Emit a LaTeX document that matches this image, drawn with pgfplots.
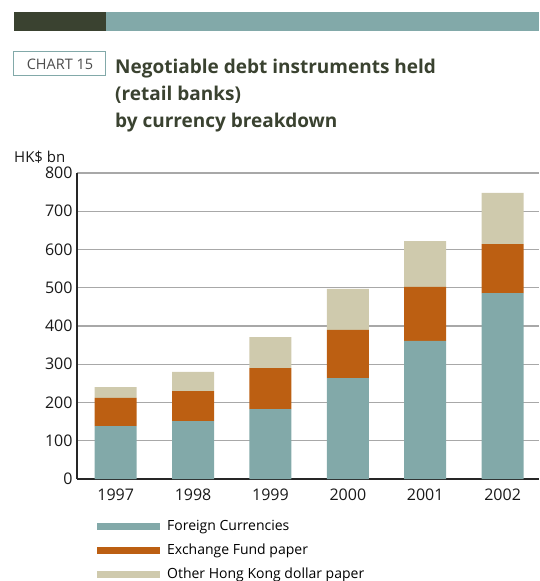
\documentclass[border=0pt]{standalone}
\usepackage{fontspec}
\setmainfont{Open Sans}
\usepackage{pgfplots}
\pgfplotsset{compat=1.18}
\definecolor{cteal}{HTML}{82A9A9}
\definecolor{corange}{HTML}{BC5F12}
\definecolor{cbeige}{HTML}{CFCAAD}
\definecolor{cdark}{HTML}{3A4230}
\definecolor{cgrid}{HTML}{A8A8A8}
\begin{document}
\begin{tikzpicture}[x=1pt,y=1pt]
\useasboundingbox (-77,-102) rectangle (462,479);
% header band
\fill[cdark] (-63,467) rectangle (29,448);
\fill[cteal] (29,467) rectangle (462,448);
% chart label box
\draw[cteal, line width=1pt] (-63,427) rectangle (29,403);
\node[text=black!70, font=\fontsize{14.5}{16}\selectfont] at (-17,415) {CHART 15};
\node[anchor=base west, inner sep=0pt, text=cdark, font=\fontsize{19}{22}\selectfont\bfseries] at (38,405) {Negotiable debt instruments held};
\node[anchor=base west, inner sep=0pt, text=cdark, font=\fontsize{19}{22}\selectfont\bfseries] at (38,378) {(retail banks)};
\node[anchor=base west, inner sep=0pt, text=cdark, font=\fontsize{19}{22}\selectfont\bfseries] at (38,351) {by currency breakdown};
\node[anchor=base west, inner sep=0pt, text=black!90, font=\fontsize{15}{17}\selectfont] at (-63,316) {HK\$ bn};
\begin{axis}[
  at={(0,0)}, anchor=south west,
  scale only axis, width=462pt, height=306pt,
  ybar stacked, bar width=42pt,
  xmin=-0.5, xmax=5.47, ymin=0, ymax=800,
  xtick={0,1,2,3,4,5},
  xticklabels={1997,1998,1999,2000,2001,2002},
  minor xtick={0.5,1.5,2.5,3.5,4.5},
  ytick={0,100,...,800},
  axis x line*=bottom, axis y line*=left,
  axis line style={black!85, line width=1.6pt},
  x axis line style={-}, y axis line style={-, line width=1.2pt},
  major tick length=0pt, minor tick length=5pt,
  xtick style={draw=none},
  minor tick style={black, line width=1pt},
  tick align=inside,
  ymajorgrids, grid style={cgrid, line width=1.4pt},
  /pgf/number format/assume math mode=true,
  ticklabel style={font=\fontsize{16}{18}\selectfont, text=black!90},
  yticklabel style={xshift=-1pt},
  xticklabel style={yshift=-6pt},
  legend style={at={(axis description cs:0,0)}, anchor=north west, xshift=17pt, yshift=-37pt,
    draw=none, fill=none, font=\fontsize{14}{16}\selectfont, row sep=8pt,
    /tikz/every even column/.append style={column sep=0pt},
    nodes={inner xsep=7pt}},
  legend cell align=left,
]
\addplot[fill=cteal, draw=none, legend image code/.code={\fill[cteal] (0pt,-3.5pt) rectangle (63pt,3.5pt);}] coordinates {(0,138) (1,151) (2,183) (3,264) (4,361) (5,486)};
\addplot[fill=corange, draw=none, legend image code/.code={\fill[corange] (0pt,-3.5pt) rectangle (63pt,3.5pt);}] coordinates {(0,74) (1,79) (2,107) (3,126) (4,141) (5,128)};
\addplot[fill=cbeige, draw=none, legend image code/.code={\fill[cbeige] (0pt,-3.5pt) rectangle (63pt,3.5pt);}] coordinates {(0,28) (1,50) (2,81) (3,107) (4,120) (5,134)};
\legend{Foreign Currencies, Exchange Fund paper, Other Hong Kong dollar paper}
\end{axis}
\end{tikzpicture}
\end{document}
